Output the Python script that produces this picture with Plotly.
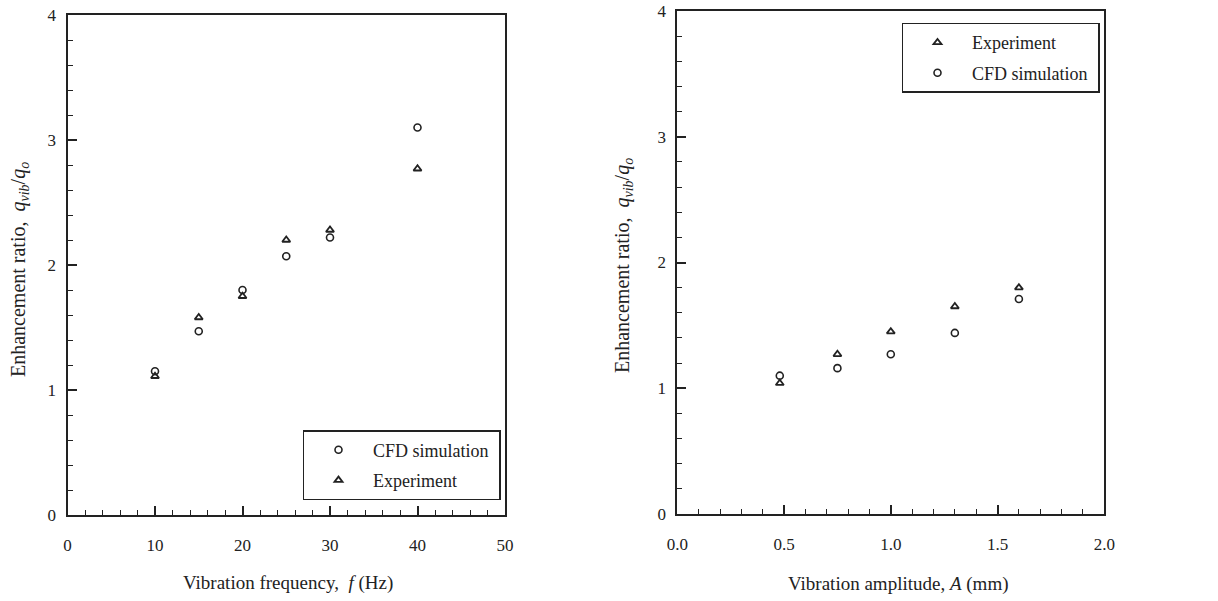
import plotly.graph_objects as go

# ---- data ----
freq = [10, 15, 20, 25, 30, 40]
freq_cfd = [1.15, 1.47, 1.80, 2.07, 2.22, 3.10]
freq_exp = [1.11, 1.58, 1.75, 2.20, 2.28, 2.77]

amp = [0.48, 0.75, 1.0, 1.3, 1.6]
amp_exp = [1.04, 1.27, 1.45, 1.65, 1.80]
amp_cfd = [1.10, 1.16, 1.27, 1.44, 1.71]

FONT = "Liberation Serif, Times New Roman, serif"
INK = "#222222"

W, H = 1218, 601

fig = go.Figure()

mk_circle = dict(symbol="circle-open", size=7, color=INK, line=dict(width=1.6, color=INK))
mk_tri = dict(symbol="triangle-up-open", size=7, color=INK, line=dict(width=1.8, color=INK))
NB = "\u00a0"

fig.add_trace(go.Scatter(x=freq, y=freq_cfd, mode="markers", name="CFD simulation" + NB,
                         marker=mk_circle, xaxis="x", yaxis="y", legend="legend",
                         legendgroup="a1"))
fig.add_trace(go.Scatter(x=freq, y=freq_exp, mode="markers", name="Experiment",
                         marker=mk_tri, xaxis="x", yaxis="y", legend="legend",
                         legendgroup="a2"))
fig.add_trace(go.Scatter(x=amp, y=amp_exp, mode="markers", name="Experiment",
                         marker=mk_tri, xaxis="x2", yaxis="y2", legend="legend2",
                         legendgroup="b1"))
fig.add_trace(go.Scatter(x=amp, y=amp_cfd, mode="markers", name="CFD simulation" + NB,
                         marker=mk_circle, xaxis="x2", yaxis="y2", legend="legend2",
                         legendgroup="b2"))


def px_x(p):
    return p / W


def px_y(p):
    return 1 - p / H


axis_common = dict(
    showgrid=False, zeroline=False, showline=True, linewidth=2, linecolor=INK,
    mirror=True, ticks="inside", ticklen=9, tickwidth=1.6, tickcolor=INK,
    tickfont=dict(family=FONT, size=17, color=INK), automargin=False,
    ticklabeloverflow="allow",
)

fig.update_layout(
    width=W, height=H,
    margin=dict(l=0, r=0, t=0, b=0),
    paper_bgcolor="white", plot_bgcolor="white",
    showlegend=True,
    xaxis=dict(**axis_common, domain=[px_x(67.5), px_x(505)], range=[0, 50], dtick=10,
               ticklabelstandoff=14,
               minor=dict(dtick=2, ticks="inside", ticklen=5, tickwidth=1.4, tickcolor=INK),
               anchor="y"),
    yaxis=dict(**axis_common, domain=[px_y(515), px_y(15)], range=[0, 4], dtick=1,
               ticklabelstandoff=6,
               minor=dict(dtick=0.2, ticks="inside", ticklen=5, tickwidth=1.4, tickcolor=INK),
               anchor="x"),
    xaxis2=dict(**axis_common, domain=[px_x(677.3), px_x(1104.3)], range=[0, 2], dtick=0.5,
                tickformat=".1f", ticklabelstandoff=14,
                minor=dict(dtick=0.1, ticks="inside", ticklen=5, tickwidth=1.4, tickcolor=INK),
                anchor="y2"),
    yaxis2=dict(**axis_common, domain=[px_y(514), px_y(11)], range=[0, 4], dtick=1,
                ticklabelstandoff=6,
                minor=dict(dtick=0.2, ticks="inside", ticklen=5, tickwidth=1.4, tickcolor=INK),
                anchor="x2"),
    legend=dict(x=px_x(500.5), y=px_y(500), xanchor="right", yanchor="bottom",
                bordercolor=INK, borderwidth=1.5, bgcolor="white",
                font=dict(family=FONT, size=18, color=INK), itemwidth=59,
                traceorder="grouped", tracegroupgap=4),
    legend2=dict(x=px_x(1099.5), y=px_y(22.7), xanchor="right", yanchor="top",
                 bordercolor=INK, borderwidth=1.5, bgcolor="white",
                 font=dict(family=FONT, size=18, color=INK), itemwidth=59,
                 traceorder="grouped", tracegroupgap=4),
)

xt_font = dict(family=FONT, size=19, color=INK)
yt_font = dict(family=FONT, size=20, color=INK)
ytitle = "Enhancement ratio,  <i>q</i><sub><i>vib</i></sub>/<i>q</i><sub><i>o</i></sub>"
annotations = [
    dict(text="Vibration frequency,  <i>f</i> (Hz)", x=px_x(287.5), y=px_y(582.7),
         xref="paper", yref="paper", showarrow=False, font=xt_font,
         xanchor="center", yanchor="middle"),
    dict(text="Vibration amplitude, <i>A</i> (mm)", x=px_x(898), y=px_y(584),
         xref="paper", yref="paper", showarrow=False, font=xt_font,
         xanchor="center", yanchor="middle"),
    dict(text=ytitle, x=px_x(19), y=px_y(270), xref="paper", yref="paper",
         showarrow=False, font=yt_font, textangle=-90,
         xanchor="center", yanchor="middle"),
    dict(text=ytitle, x=px_x(623), y=px_y(266), xref="paper", yref="paper",
         showarrow=False, font=yt_font, textangle=-90,
         xanchor="center", yanchor="middle"),
]
fig.update_layout(annotations=annotations)

# remove the default 8px page margin so the figure fills the window exactly
fig.write_html("out.html",
               config={"displayModeBar": False},
               post_script="document.body.style.margin='0px';document.body.style.overflow='hidden';")
